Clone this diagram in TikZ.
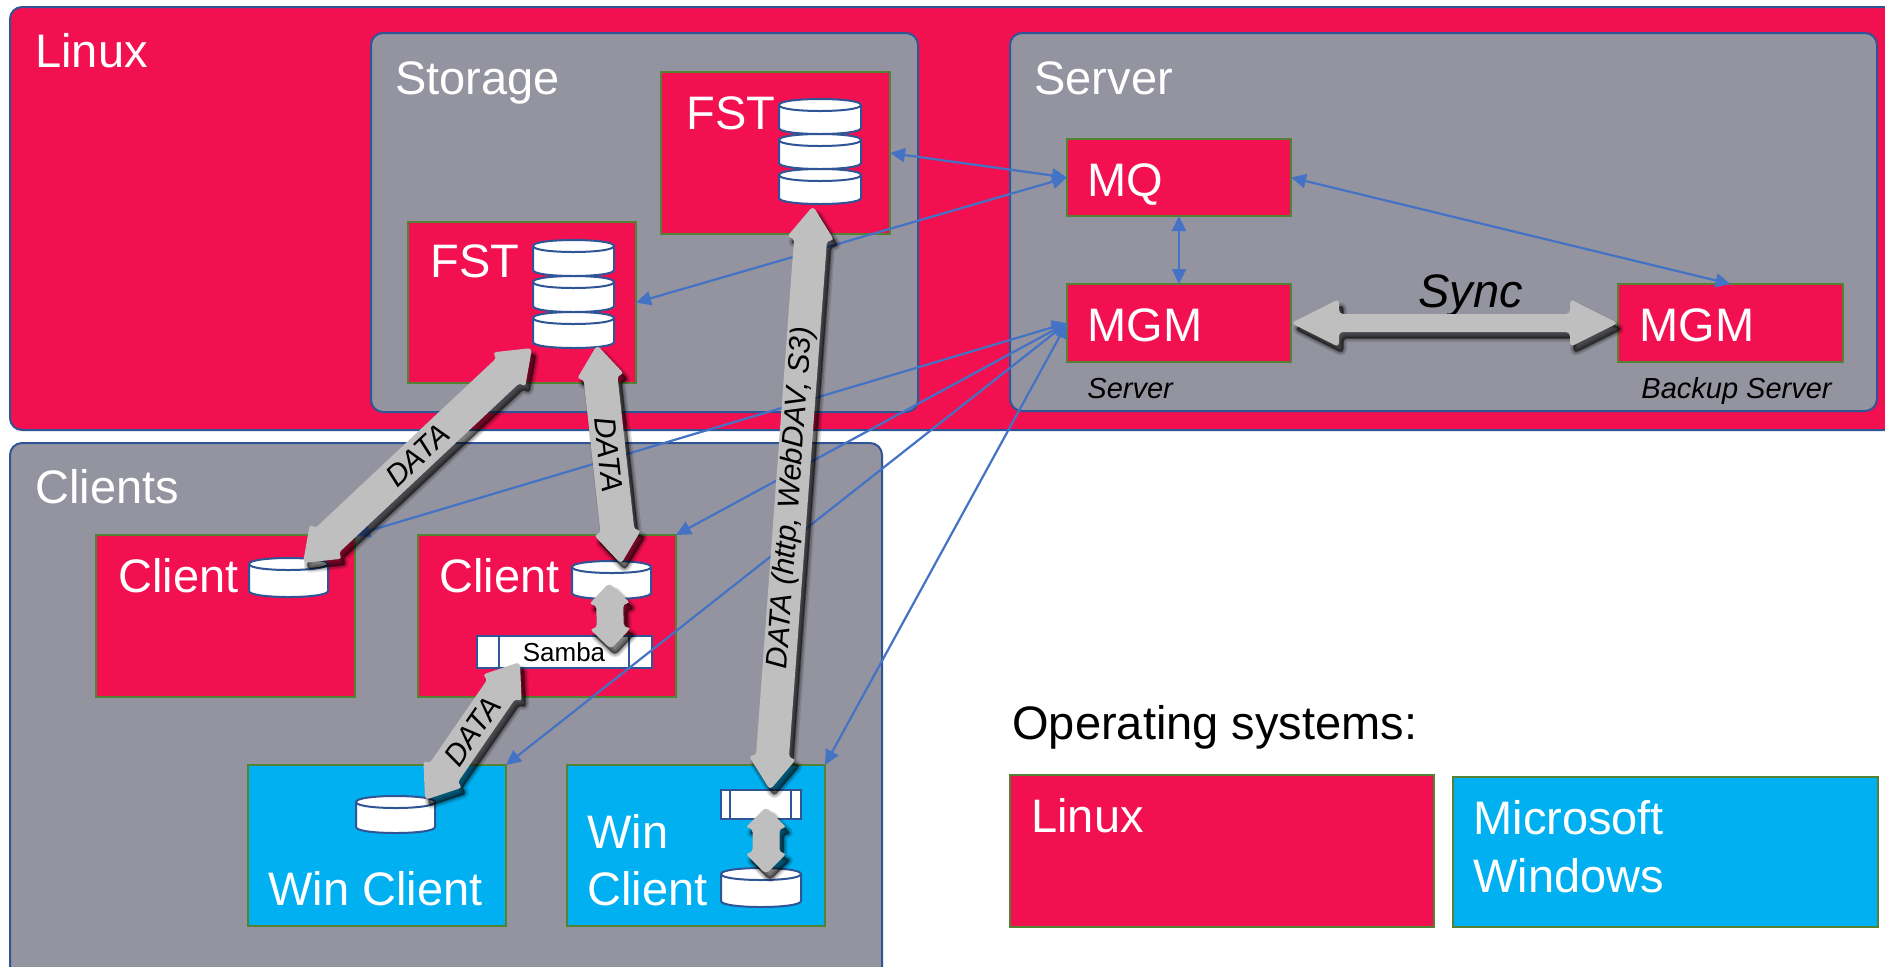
\documentclass[tikz,border=0pt]{standalone}
\usepackage{fontspec}
\setmainfont{Liberation Sans}
\usetikzlibrary{arrows.meta,calc}
\definecolor{lxred}{HTML}{F21050}
\definecolor{boxgray}{HTML}{9494A0}
\definecolor{winblue}{HTML}{00B0F0}
\definecolor{edgeblue}{HTML}{2F5597}
\definecolor{edgegreen}{HTML}{548235}
\definecolor{connblue}{HTML}{4472C4}
\definecolor{fatgray}{HTML}{BFBFBF}
\tikzset{
  basebox/.style={rectangle, inner sep=0pt, outer sep=0pt},
  outerred/.style={basebox, fill=lxred, draw=edgeblue, line width=1pt, rounded corners=6pt},
  grayarea/.style={basebox, fill=boxgray, draw=edgeblue, line width=1pt, rounded corners=6pt},
  lxbox/.style={basebox, fill=lxred, draw=edgegreen, line width=1.2pt},
  winbox/.style={basebox, fill=winblue, draw=edgegreen, line width=1.2pt},
  gatebox/.style={basebox, fill=white, draw=edgeblue, line width=1pt},
  ghost/.style={basebox, draw=none},
  dbsty/.style={fill=white, draw=edgeblue, line width=1pt},
  biglbl/.style={anchor=base west, inner sep=0pt, text=white, font=\fontsize{23.5}{28}\selectfont},
  blacklbl/.style={biglbl, text=black},
  smalllbl/.style={anchor=base west, inner sep=0pt, text=black, font=\itshape\fontsize{14.5}{17}\selectfont},
  datalbl/.style={inner sep=0pt, text=black, font=\itshape\fontsize{15}{17}\selectfont},
  sambalbl/.style={anchor=base, inner sep=0pt, text=black, font=\fontsize{13}{15}\selectfont},
  conn/.style={draw=connblue, line width=1.1pt, >={Triangle[length=7.5pt,width=7pt]}, <->},
}
% box from px corners
\newcommand\bx[6]{\node[#2, anchor=north west, minimum width={(#5-#3)*0.5pt}, minimum height={(#6-#4)*0.5pt}] (#1) at (#3,#4) {};}
% one cylinder segment: x1, x2, top centre y, bottom centre y, ry
\newcommand\cylseg[5]{%
  \filldraw[dbsty] (#1,#3) -- (#1,#4) .. controls (#1,{#4+1.333*#5}) and (#2,{#4+1.333*#5}) .. (#2,#4)
     -- (#2,#3) .. controls (#2,{#3-1.333*#5}) and (#1,{#3-1.333*#5}) .. (#1,#3) -- cycle;
  \draw[dbsty, fill=none] (#1,#3) .. controls (#1,{#3+1.333*#5}) and (#2,{#3+1.333*#5}) .. (#2,#3);
}
\def\fapoly{(0pt,0pt) -- (\fah pt,\faW pt) -- (\fah pt,\fas pt) -- (\faL pt,\fas pt) -- (\faL pt,\faW pt)
  -- (\falen pt,0pt) -- (\faL pt,-\faW pt) -- (\faL pt,-\fas pt) -- (\fah pt,-\fas pt) -- (\fah pt,-\faW pt) -- cycle}
% fat double arrow: from, to, shaft px, head width px, head length px, label
\newcommand\fatarrow[6]{%
  \path let \p1=(#1), \p2=(#2) in \pgfextra{%
    \pgfmathparse{atan2(\y2-\y1,\x2-\x1)}\xdef\faang{\pgfmathresult}%
    \pgfmathparse{veclen(\x2-\x1,\y2-\y1)}\xdef\falen{\pgfmathresult}};
  \pgfmathsetmacro\fas{#3*0.25}%
  \pgfmathsetmacro\faW{#4*0.25}%
  \pgfmathsetmacro\fah{#5*0.5}%
  \pgfmathsetmacro\faL{\falen-\fah}%
  \foreach \lw/\op in {4/0.12, 2.4/0.18, 0.8/0.32}{%
    \begin{scope}[shift={(#1)}, xshift=2pt, yshift=-3pt, rotate=\faang]
      \filldraw[black, opacity=\op, line width=\lw pt, line join=round, rounded corners=2pt] \fapoly;
    \end{scope}}
  \begin{scope}[shift={(#1)}, rotate=\faang]
    \fill[fatgray, rounded corners=2pt] \fapoly;
    \node[datalbl, transform shape] at ({\falen*0.5pt},0pt) {#6};
  \end{scope}}
\begin{document}
\begin{tikzpicture}[x=0.5pt,y=-0.5pt]
\useasboundingbox (0,0) rectangle (1885,966);
\clip (0,0) rectangle (1885,966);
\fill[white] (0,0) rectangle (1885,966);
% areas
\bx{linux}{outerred}{10}{7}{1905}{430}
\bx{storage}{grayarea}{371}{33}{918}{412}
\bx{server}{grayarea}{1010}{33}{1877}{411}
\bx{clients}{grayarea}{10}{443}{882}{1000}
\node[biglbl] (tLinux) at (35,67) {Linux};
\node[biglbl] (tStorage) at (395,94) {Storage};
\node[biglbl] (tServer) at (1034,94) {Server};
\node[biglbl] (tClients) at (35,503) {Clients};
% storage
\bx{fst1}{lxbox}{661}{72}{890}{234}
\bx{fst2}{lxbox}{408}{222}{636}{383}
\node[biglbl] (tF1) at (686,129) {FST};
\node[biglbl] (tF2) at (430,277) {FST};
\bx{db1}{ghost}{779}{99}{861}{205}
\cylseg{779}{861}{105}{128}{6}
\cylseg{779}{861}{140}{163}{6}
\cylseg{779}{861}{175}{198}{6}
\bx{db2}{ghost}{533}{240}{614}{348}
\cylseg{533}{614}{246}{270}{6}
\cylseg{533}{614}{282}{306}{6}
\cylseg{533}{614}{318}{342}{6}
% server
\bx{mq}{lxbox}{1067}{139}{1291}{216}
\bx{mgm}{lxbox}{1067}{284}{1291}{362}
\bx{bmgm}{lxbox}{1618}{284}{1843}{362}
\node[biglbl] (tMQ) at (1087,196) {MQ};
\node[biglbl] (tMGM) at (1087,341) {MGM};
\node[biglbl] (tBMGM) at (1639,341) {MGM};
\node[smalllbl] (tSrv) at (1087,398) {Server};
\node[smalllbl] (tBSrv) at (1641,398) {Backup Server};
\node[blacklbl, font=\itshape\fontsize{23.5}{28}\selectfont] (tSync) at (1418,307) {Sync};
% clients
\bx{client1}{lxbox}{96}{535}{355}{697}
\bx{client2}{lxbox}{418}{535}{676}{697}
\bx{win1}{winbox}{248}{765}{506}{926}
\bx{win2}{winbox}{567}{765}{825}{926}
\node[biglbl] (tC1) at (118,592) {Client};
\node[biglbl] (tC2) at (439,592) {Client};
\node[biglbl] (tW1) at (268,905) {Win Client};
\node[biglbl] (tW2a) at (587,848) {Win};
\node[biglbl] (tW2b) at (587,905) {Client};
\bx{c1d}{ghost}{249}{558}{328}{597}
\cylseg{249}{328}{564}{591}{6}
\bx{c2d}{ghost}{572}{561}{651}{599}
\cylseg{572}{651}{567}{593}{6}
\bx{w1d}{ghost}{356}{796}{435}{833}
\cylseg{356}{435}{802}{827}{6}
\bx{w2d}{ghost}{721}{868}{801}{907}
\cylseg{721}{801}{874}{901}{6}
\bx{samba}{gatebox}{477}{636}{652}{668}
\draw[edgeblue, line width=1pt] ([xshift=11pt]samba.north west) -- ([xshift=11pt]samba.south west);
\draw[edgeblue, line width=1pt] ([xshift=-11.5pt]samba.north east) -- ([xshift=-11.5pt]samba.south east);
\node[sambalbl] (tSamba) at (564,661) {Samba};
\bx{gate2}{gatebox}{721}{790}{801}{819}
\draw[edgeblue, line width=1pt] ([xshift=4.5pt]gate2.north west) -- ([xshift=4.5pt]gate2.south west);
\draw[edgeblue, line width=1pt] ([xshift=-5pt]gate2.north east) -- ([xshift=-5pt]gate2.south east);
% legend
\node[blacklbl] (tOS) at (1012,739) {Operating systems:};
\bx{legl}{lxbox}{1010}{775}{1434}{927}
\bx{legw}{winbox}{1453}{777}{1878}{927}
\node[biglbl] (tLL) at (1031,832) {Linux};
\node[biglbl] (tLW1) at (1473,834) {Microsoft};
\node[biglbl] (tLW2) at (1473,892) {Windows};
% blue connectors
\draw[conn] (fst1.east) -- (mq.west);
\draw[conn] (fst2.east) -- (mq.west);
\draw[conn] (mq.south) -- (mgm.north);
\draw[conn] (mq.east) -- (bmgm.north);
\draw[conn] (mgm.west) -- (client1.north east);
\draw[conn] (mgm.west) -- (client2.north east);
\draw[conn] (mgm.west) -- (win1.north east);
\draw[conn] (mgm.west) -- (win2.north east);
% fat arrow end points
\coordinate (a1s) at (303,563);
\coordinate (a1e) at (532,348);
\coordinate (a2s) at (597,345);
\coordinate (a2e) at (621,564);
\coordinate (a3s) at (609,583);
\coordinate (a3e) at (611,649);
\coordinate (a4s) at (425,800);
\coordinate (a4e) at (520,662);
\coordinate (a5s) at (770,790);
\coordinate (a5e) at (813,206);
\coordinate (a6s) at (766,807);
\coordinate (a6e) at (766,874);
\fatarrow{a1s}{a1e}{34}{48}{32}{DATA}
\fatarrow{a2s}{a2e}{34}{48}{32}{DATA}
\fatarrow{a3s}{a3e}{27}{42}{21}{}
\fatarrow{a4s}{a4e}{34}{48}{32}{DATA}
\fatarrow{a5s}{a5e}{33}{48}{33}{DATA (http, WebDAV, S3)}
\fatarrow{a6s}{a6e}{27}{42}{21}{}
\fatarrow{mgm.east}{bmgm.west}{18}{48}{48}{}
\end{tikzpicture}
\end{document}
